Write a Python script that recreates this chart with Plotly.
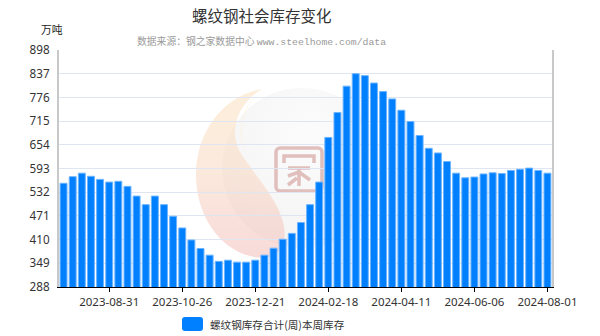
import base64
import plotly.graph_objects as go

dates = [
    "2023-07-27", "2023-08-03", "2023-08-10", "2023-08-17", "2023-08-24", "2023-08-31",
    "2023-09-07", "2023-09-14", "2023-09-21", "2023-09-28", "2023-10-05", "2023-10-12",
    "2023-10-19", "2023-10-26", "2023-11-02", "2023-11-09", "2023-11-16", "2023-11-23",
    "2023-11-30", "2023-12-07", "2023-12-14", "2023-12-21", "2023-12-28", "2024-01-04",
    "2024-01-11", "2024-01-18", "2024-01-25", "2024-02-01", "2024-02-08", "2024-02-18",
    "2024-02-22", "2024-02-29", "2024-03-07", "2024-03-14", "2024-03-21", "2024-03-28",
    "2024-04-04", "2024-04-11", "2024-04-18", "2024-04-25", "2024-05-02", "2024-05-09",
    "2024-05-16", "2024-05-23", "2024-05-30", "2024-06-06", "2024-06-13", "2024-06-20",
    "2024-06-27", "2024-07-04", "2024-07-11", "2024-07-18", "2024-07-25", "2024-08-01",
]
inventory = [
    555, 572, 581, 573, 565, 558, 560, 547, 522, 500,
    522, 500, 470, 440, 409, 387, 370, 354, 357, 352,
    352, 357, 370, 388, 411, 426, 454, 500, 558, 673,
    737, 805, 837, 832, 813, 791, 772, 743, 714, 678,
    645, 633, 611, 581, 569, 571, 579, 582, 580, 588,
    591, 594, 588, 581,
]
x_tick_labels = ["2023-08-31", "2023-10-26", "2023-12-21", "2024-02-18",
                 "2024-04-11", "2024-06-06", "2024-08-01"]
y_ticks = [288, 349, 410, 471, 532, 593, 654, 715, 776, 837, 898]

title = "螺纹钢社会库存变化"
subtitle_cn = "数据来源：钢之家数据中心"
subtitle_url = "www.steelhome.com/data"
unit = "万吨"
series_name = "螺纹钢库存合计(周)本周库存"

W, H = 600, 336
ML, MR, MT, MB = 59, 48, 50, 49
PW, PH = W - ML - MR, H - MT - MB

CJK = "Noto Sans CJK SC, Noto Sans, sans-serif"
MONO = "Liberation Mono, DejaVu Sans Mono, monospace"

# decorative watermark logo as inline SVG
svg = """<svg xmlns='http://www.w3.org/2000/svg' width='190' height='177' viewBox='190 85 190 177' preserveAspectRatio='none'>
<defs>
<linearGradient id='p' x1='0' y1='0' x2='0' y2='1'>
<stop offset='0' stop-color='#fbe4c4'/><stop offset='0.45' stop-color='#f9dcc6'/>
<stop offset='1' stop-color='#f3c2c0'/></linearGradient>
<radialGradient id='g' cx='0.55' cy='0.3' r='0.65'>
<stop offset='0' stop-color='#f9f9f9'/><stop offset='1' stop-color='#ececec'/></radialGradient>
</defs>
<circle cx='302' cy='168' r='80' fill='url(#g)' opacity='0.55'/>
<path d='M 262 89 C 225 95 196 130 196 175 C 196 220 225 256 262 258 C 282 258 288 240 283 222 C 278 200 255 175 242 155 C 228 135 235 105 262 89 Z' fill='url(#p)' opacity='0.6'/>
<path d='M 256 96 C 240 110 236 135 246 152 C 238 130 242 112 256 96 Z' fill='#fdf3dc' opacity='0.5'/>
<g fill='none' stroke='#d8aca8' stroke-width='3.5' opacity='0.75'>
<rect x='276' y='148' width='46' height='43' rx='4'/>
<path d='M 284 163 L 284 156 L 314 156 L 314 163'/>
<path d='M 288 168 L 310 168 M 299 168 L 299 186 M 288 176 L 299 172 L 310 180 M 288 185 L 297 178'/>
</g>
</svg>"""
src = "data:image/svg+xml;base64," + base64.b64encode(svg.encode()).decode()


def px_x(x):
    return (x - ML) / PW


def px_y(y):
    return (H - MB - y) / PH


fig = go.Figure()
fig.add_trace(go.Bar(
    x=dates, y=inventory, name=series_name,
    marker=dict(color="#0080ff", line=dict(color="#6cb4ff", width=1)),
    showlegend=False,
))

fig.add_layout_image(dict(
    source=src, xref="paper", yref="paper",
    x=px_x(190), y=px_y(85), sizex=190 / PW, sizey=177 / PH,
    xanchor="left", yanchor="top", sizing="stretch", layer="below", opacity=1,
))


def note(text, x, y, size, color, anchor="center"):
    return dict(text=text, x=px_x(x), y=px_y(y), xref="paper", yref="paper",
                showarrow=False, xanchor=anchor, yanchor="middle",
                font=dict(size=size, color=color, family=CJK))


def rounded_rect(x0, y0, x1, y1, r):
    pts = [
        f"M {px_x(x0 + r)},{px_y(y0)}",
        f"L {px_x(x1 - r)},{px_y(y0)}",
        f"Q {px_x(x1)},{px_y(y0)} {px_x(x1)},{px_y(y0 + r)}",
        f"L {px_x(x1)},{px_y(y1 - r)}",
        f"Q {px_x(x1)},{px_y(y1)} {px_x(x1 - r)},{px_y(y1)}",
        f"L {px_x(x0 + r)},{px_y(y1)}",
        f"Q {px_x(x0)},{px_y(y1)} {px_x(x0)},{px_y(y1 - r)}",
        f"L {px_x(x0)},{px_y(y0 + r)}",
        f"Q {px_x(x0)},{px_y(y0)} {px_x(x0 + r)},{px_y(y0)} Z",
    ]
    return " ".join(pts)


subtitle_html = (f"{subtitle_cn} <span style='font-family:{MONO}'>{subtitle_url}</span>")

fig.update_layout(
    width=W, height=H,
    margin=dict(l=ML, r=MR, t=MT, b=MB, pad=0),
    paper_bgcolor="white", plot_bgcolor="white",
    bargap=0.24,
    font=dict(family=CJK, color="#333333"),
    xaxis=dict(
        type="category", range=[-0.5, len(dates) - 0.5],
        tickmode="array", tickvals=x_tick_labels, ticktext=x_tick_labels,
        ticks="outside", ticklen=4, tickcolor="#000", tickwidth=1,
        showline=True, linecolor="#000", linewidth=1,
        showgrid=False, tickangle=0,
        tickfont=dict(family="Noto Sans, sans-serif", size=11.5, color="#333"),
    ),
    yaxis=dict(
        range=[288, 898], tickmode="array", tickvals=y_ticks,
        showgrid=True, gridcolor="#e0e6f1", gridwidth=1,
        showline=True, linecolor="#c8c8c8", linewidth=2, mirror=True,
        zeroline=False, ticks="", ticklabelstandoff=5,
        tickfont=dict(family="Noto Sans, sans-serif", size=11.7, color="#333"),
    ),
    annotations=[
        note(title, 262, 15, 15.5, "#333"),
        note(subtitle_html, 261, 41, 9.8, "#9a9a9a"),
        note(unit, 52, 29, 10.8, "#222"),
        note(series_name, 208, 324, 10.6, "#333", anchor="left"),
    ],
    shapes=[
        dict(type="path", xref="paper", yref="paper",
             path=rounded_rect(182, 317, 203, 331, 3),
             fillcolor="#0080ff", line=dict(width=0)),
    ],
)

fig.write_html("out.html")
